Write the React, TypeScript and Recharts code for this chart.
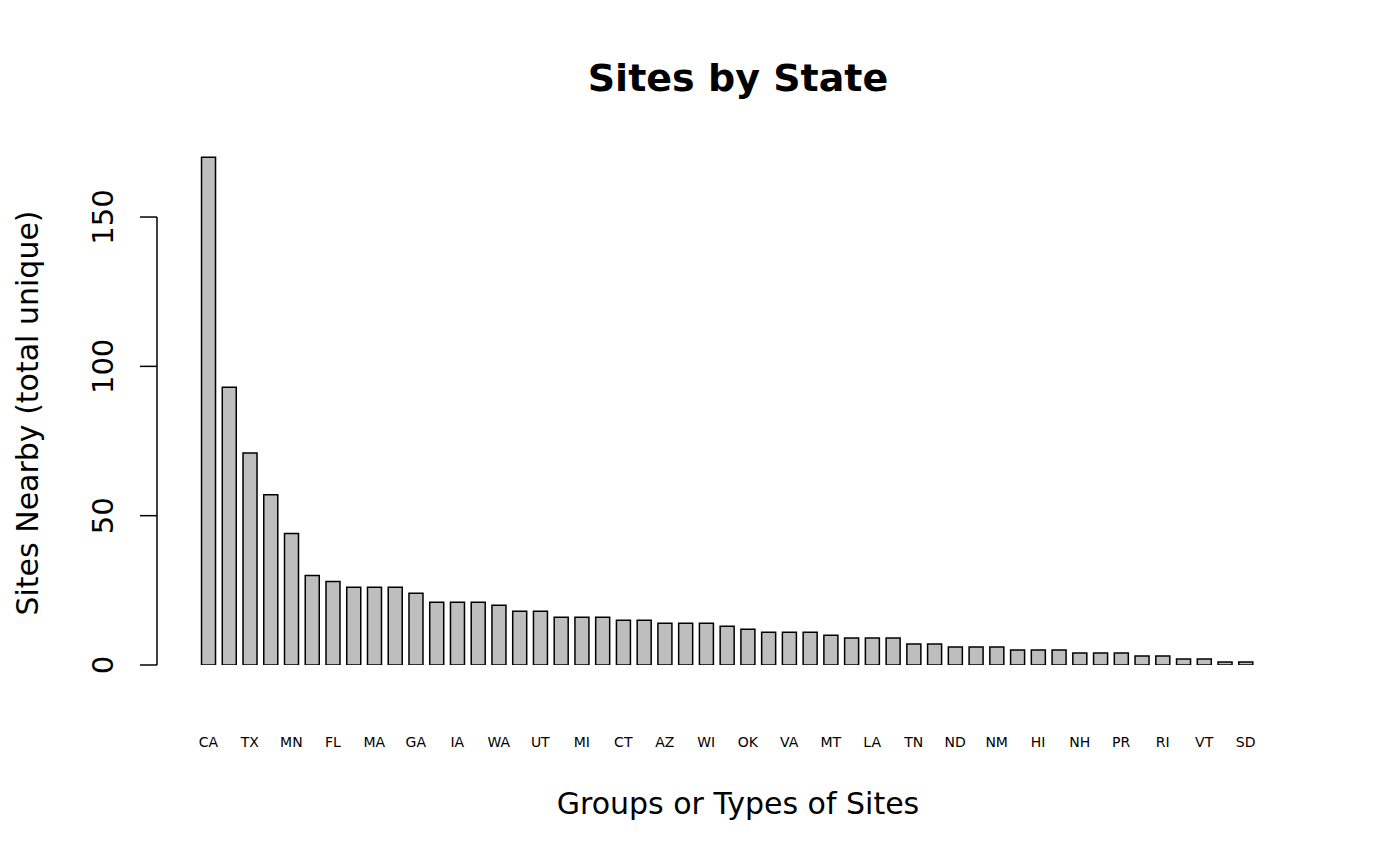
import React from "react";
import { BarChart, Bar, XAxis, YAxis } from "recharts";

const states = ["CA","NY","TX","PA","MN","IL","FL","OH","MA","NJ","GA","NC","IA","CO","WA","OR","UT","MO","MI","MD","CT","IN","AZ","KY","WI","NE","OK","KS","VA","SC","MT","AL","LA","ID","TN","AR","ND","NV","NM","WY","HI","ME","NH","MS","PR","AK","RI","DE","VT","WV","SD"];
const counts = [170,93,71,57,44,30,28,26,26,26,24,21,21,21,20,18,18,16,16,16,15,15,14,14,14,13,12,11,11,11,10,9,9,9,7,7,6,6,6,5,5,5,4,4,4,3,3,2,2,1,1];
const yTicks = [0, 50, 100, 150];
const data = states.map((s, i) => ({ state: s, value: counts[i] }));

const TOP = 137, BOTTOM = 201, H = 866;
const PLOT_H = H - TOP - BOTTOM;
const YMAX = 176.8;
const font = "DejaVu Sans, sans-serif";

const YTick = (p: any) => {
  const { x, y, payload } = p;
  const v = payload.value;
  const ax = 157;
  return (
    <g>
      <line x1={ax - 17} x2={ax} y1={y} y2={y} stroke="#000" strokeWidth={1.5} />
      {v === 150 && <line x1={ax} x2={ax} y1={y} y2={y + (v * PLOT_H) / YMAX} stroke="#000" strokeWidth={1.5} />}
      <text x={ax - 44} y={y} transform={`rotate(-90 ${ax - 44} ${y})`} textAnchor="middle" fontSize={29} fontFamily={font} fill="#000">{v}</text>
    </g>
  );
};

const XTick = (p: any) => (
  <text x={p.x} y={p.y + 74} textAnchor="middle" fontSize={14} fontFamily={font} fill="#000">{p.payload.value}</text>
);

export default function App() {
  return (
    <div style={{ position: "absolute", left: 0, top: 0, width: 1400, height: 866, background: "#fff", fontFamily: font }}>
      <BarChart width={1400} height={866} data={data} margin={{ top: TOP, bottom: 0, left: 0, right: 144 }} barCategoryGap="17%">
        <XAxis dataKey="state" interval={1} axisLine={false} tickLine={false} tick={<XTick />} height={BOTTOM} padding={{ left: 41, right: 0 }} />
        <YAxis domain={[0, YMAX]} ticks={yTicks} width={157} axisLine={false} tickLine={false} tick={<YTick />} allowDataOverflow />
        <Bar dataKey="value" fill="#bebebe" stroke="#000" strokeWidth={1.5} isAnimationActive={false} />
      </BarChart>
      <div style={{ position: "absolute", left: 0, width: 1476, top: 56, textAlign: "center", fontSize: 38, fontWeight: "bold" }}>Sites by State</div>
      <div style={{ position: "absolute", left: 0, width: 1476, top: 786, textAlign: "center", fontSize: 30 }}>Groups or Types of Sites</div>
      <div style={{ position: "absolute", left: 27, top: 413, width: 0, height: 0 }}>
        <div style={{ position: "absolute", transform: "translate(-50%,-50%) rotate(-90deg)", whiteSpace: "nowrap", fontSize: 30 }}>Sites Nearby (total unique)</div>
      </div>
    </div>
  );
}
